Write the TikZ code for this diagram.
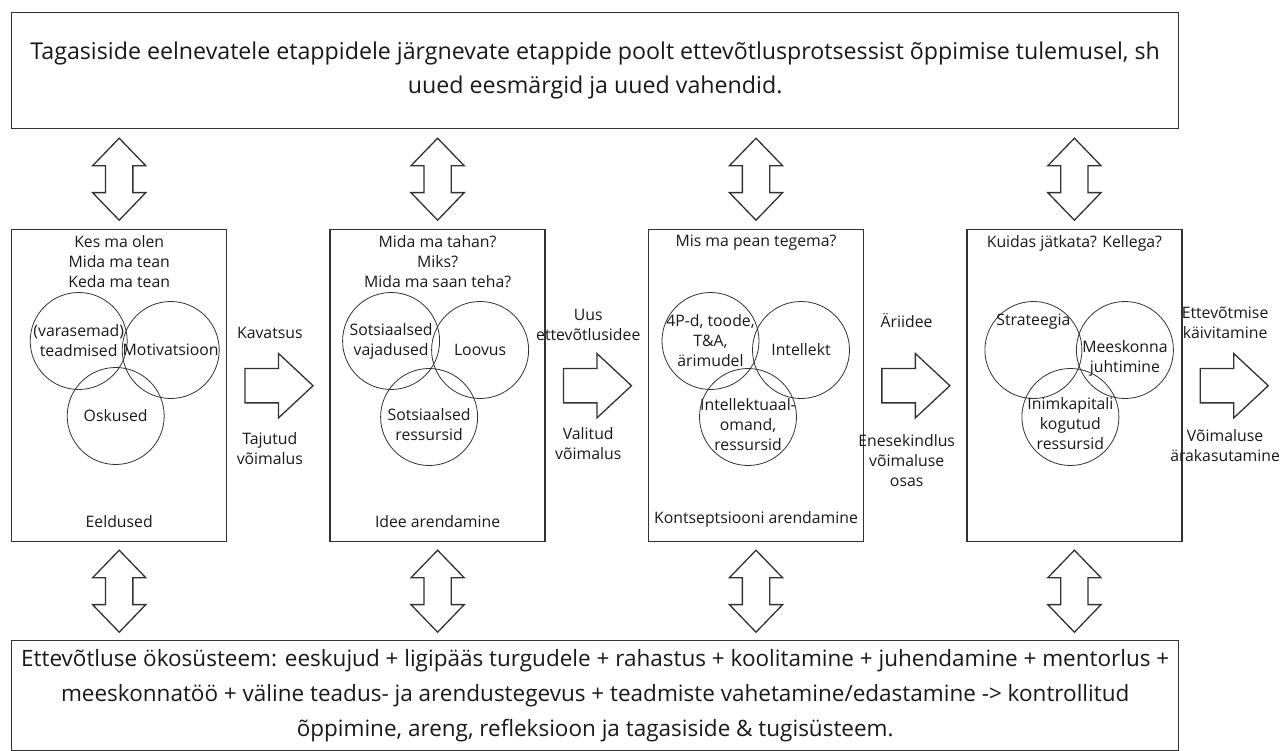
\documentclass[tikz,border=0pt]{standalone}
\usepackage{fontspec}
\setmainfont{Open Sans}
\usetikzlibrary{positioning,shapes.arrows,calc}
\definecolor{stline}{RGB}{50,50,50}
\definecolor{sttext}{RGB}{25,25,25}
\tikzset{
  st/.style={font=\fontsize{15.8}{20}\selectfont, text=sttext},
  bigtxt/.style={font=\fontsize{23.2}{34}\selectfont, text=sttext},
  widebox/.style={
    bigtxt, draw=stline, line width=1.4pt, minimum width=1167pt,
    align=center, inner sep=0pt
  },
  stagebox/.style={
    draw=stline, line width=1.4pt, minimum width=215pt, minimum height=312pt,
    inner sep=0pt
  },
  venn/.style={circle, draw=stline, line width=0.8pt, minimum size=97pt, inner sep=0pt},
  vlbl/.style={st, align=center, inner sep=0pt},
  hint/.style={st, align=center, inner sep=0pt},
  fwdarr/.style={
    single arrow, draw=stline, line width=1.3pt, inner xsep=0pt, inner ysep=16.5pt,
    minimum height=68pt,
    single arrow head extend=15pt, single arrow tip angle=86
  },
  dblarr/.style={
    double arrow, rotate=90, draw=stline, line width=1.3pt, inner xsep=0pt, inner ysep=13pt,
    minimum height=82pt,
    double arrow head extend=13pt, double arrow tip angle=88
  },
}

\begin{document}
\begin{tikzpicture}[x=1pt, y=-1pt, st]
    \useasboundingbox (0,0) rectangle (1284,751);

    % Tagasiside (ylal)
    \node[widebox, minimum height=116pt, anchor=north west] (fb) at (11,12)
      {Tagasiside eelnevatele etappidele järgnevate etappide poolt ettevõtlusprotsessist õppimise tulemusel, sh\\uued eesmärgid ja uued vahendid.};

    % Etapid
    \node[stagebox, anchor=north west] (s1) at (11,229) {};
    \node[stagebox, right=102pt of s1] (s2) {};
    \node[stagebox, right=102pt of s2] (s3) {};
    \node[stagebox, right=102pt of s3] (s4) {};

    % Okosusteem (all)
    \node[widebox, font=\fontsize{22.5}{35}\selectfont, minimum height=110pt, anchor=north west] (eco) at (11,640)
      {Ettevõtluse ökosüsteem: eeskujud + ligipääs turgudele + rahastus + koolitamine + juhendamine + mentorlus +\\
       meeskonnatöö + väline teadus- ja arendustegevus + teadmiste vahetamine/edastamine -> kontrollitud\\
       õppimine, areng, refleksioon ja tagasiside \& tugisüsteem.};

    % Kusimused ja nimed
    \node[hint, below=6pt of s1.north] (q1) {Kes ma olen\\Mida ma tean\\Keda ma tean};
    \node[hint, below=6pt of s2.north] (q2) {Mida ma tahan?\\Miks?\\Mida ma saan teha?};
    \node[hint, below=6pt of s3.north] (q3) {Mis ma pean tegema?};
    \node[hint, below=6pt of s4.north] (q4) {Kuidas jätkata? Kellega?};
    \node[hint, above=15pt of s1.south] (n1) {Eeldused};
    \node[hint, above=15pt of s2.south] (n2) {Idee arendamine};
    \node[hint, above=15pt of s3.south] (n3) {Kontseptsiooni arendamine};

    % Ringid
    \node[venn, label={[vlbl]center:{(varasemad)\\teadmised}}] (c11) at ([shift={(-40.5,112)}]s1.north) {};
    \node[venn, label={[vlbl]center:Motivatsioon}] (c12) at ([shift={(51.5,121)}]s1.north) {};
    \node[venn, label={[vlbl]center:Oskused}] (c13) at ([shift={(-3.5,187)}]s1.north) {};

    \node[venn, label={[vlbl]center:{Sotsiaalsed\\vajadused}}] (c21) at ([shift={(-46.5,112)}]s2.north) {};
    \node[venn, label={[vlbl]center:Loovus}] (c22) at ([shift={(42.5,121)}]s2.north) {};
    \node[venn, label={[vlbl, yshift=-8pt]center:{Sotsiaalsed\\ressursid}}] (c23) at ([shift={(-8.5,188)}]s2.north) {};

    \node[venn, label={[vlbl]center:{4P-d, toode,\\T\&A,\\ärimudel}}] (c31) at ([shift={(-45.5,112)}]s3.north) {};
    \node[venn, label={[vlbl]center:Intellekt}] (c32) at ([shift={(45,121)}]s3.north) {};
    \node[venn, label={[vlbl, yshift=-8pt]center:{Intellektuaal-\\omand,\\ressursid}}] (c33) at ([shift={(-8,188)}]s3.north) {};

    \node[venn, label={[vlbl, yshift=28pt]center:Strateegia}] (c41) at ([shift={(-41,121)}]s4.north) {};
    \node[venn, label={[vlbl, yshift=-8pt]center:{Meeskonna\\juhtimine}}] (c42) at ([shift={(50.5,121)}]s4.north) {};
    \node[venn, label={[vlbl, yshift=-7pt]center:{Inimkapitali\\kogutud\\ressursid}}] (c43) at ([shift={(-4,188)}]s4.north) {};

    % Noolte vahel etappide
    \node[fwdarr, right=17pt of s1] (a1) {};
    \node[fwdarr, right=17pt of s2] (a2) {};
    \node[fwdarr, right=17pt of s3] (a3) {};
    \node[fwdarr, right=17pt of s4] (a4) {};

    \node[hint, above=47pt of a1.center] {Kavatsus};
    \node[hint, below=47pt of a1.center] {Tajutud\\võimalus};
    \node[hint, above=45pt of a2.center] {Uus\\ettevõtlusidee};
    \node[hint, below=42pt of a2.center] {Valitud\\võimalus};
    \node[hint, above=58pt of a3.center] {Äriidee};
    \node[hint, below=49pt of a3.center] {Enesekindlus\\võimaluse\\osas};
    \node[hint, above=47pt of a4.center] {Ettevõtmise\\käivitamine};
    \node[hint, below=44pt of a4.center] {Võimaluse\\ärakasutamine};

    % Kahesuunalised nooled
    \foreach \i in {1,...,4} {
      \node[dblarr] (u\i) at ($(s\i.north)!.5!(s\i.north |- fb.south)$) {};
      \node[dblarr] (d\i) at ($(s\i.south)!.5!(s\i.south |- eco.north)$) {};
    }
  \end{tikzpicture}
\end{document}
